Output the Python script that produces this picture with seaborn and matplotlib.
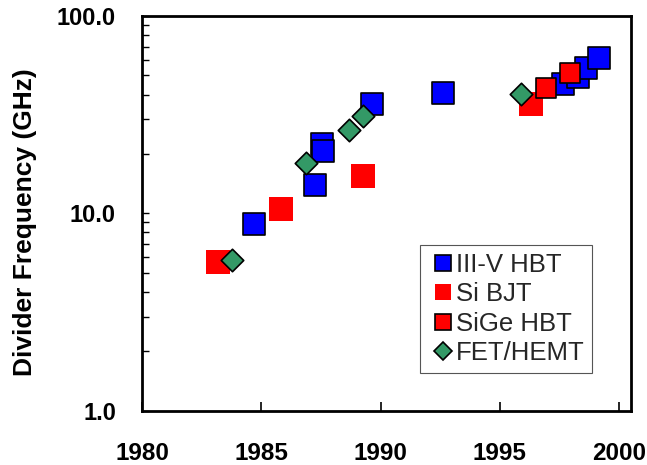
import matplotlib
matplotlib.use('Agg')
import matplotlib.pyplot as plt
import seaborn as sns
import numpy as np
from matplotlib.lines import Line2D
from matplotlib.ticker import LogLocator, NullFormatter

# ---- data ----
iiiv_year = [1984.70, 1987.23, 1987.53, 1987.60, 1989.65, 1992.62, 1997.65, 1998.27, 1998.64, 1999.16]
iiiv_freq = [8.85, 13.9, 22.5, 20.7, 35.9, 40.6, 45.0, 49.3, 54.7, 61.3]
sibjt_year = [1983.18, 1985.81, 1989.28, 1996.31]
sibjt_freq = [5.64, 10.56, 15.4, 35.7]
sige_year = [1996.94, 1997.96]
sige_freq = [43.2, 51.4]
fet_year = [1983.78, 1986.88, 1988.68, 1989.26, 1995.91]
fet_freq = [5.82, 18.0, 26.4, 31.0, 40.2]

series_labels = ['III-V HBT', 'Si BJT', 'SiGe HBT', 'FET/HEMT']
x_ticks = [1980, 1985, 1990, 1995, 2000]
x_tick_labels = ['1980', '1985', '1990', '1995', '2000']
y_ticks = [1.0, 10.0, 100.0]
y_tick_labels = ['1.0', '10.0', '100.0']
y_label = 'Divider Frequency (GHz)'

BLUE = '#0000ff'
RED = '#ff0000'
GREEN = '#339966'

sns.set_style('white')
plt.rcParams['font.family'] = ['Liberation Sans', 'DejaVu Sans']

fig = plt.figure(figsize=(6.47, 4.65), dpi=100)
ax = fig.add_axes([142.3 / 647, 1 - 410.7 / 465, (630.7 - 142.3) / 647, (410.7 - 16) / 465])
ax.set_yscale('log')

sns.scatterplot(x=iiiv_year, y=iiiv_freq, marker='s', s=233, color=BLUE,
                edgecolor='black', linewidth=1.2, ax=ax, legend=False, zorder=3)
sns.scatterplot(x=sibjt_year, y=sibjt_freq, marker='s', s=290, color=RED,
                edgecolor=RED, linewidth=0.0, ax=ax, legend=False, zorder=4)
sns.scatterplot(x=sige_year, y=sige_freq, marker='s', s=225, color=RED,
                edgecolor='black', linewidth=1.2, ax=ax, legend=False, zorder=5)
sns.scatterplot(x=fet_year, y=fet_freq, marker='D', s=131, color=GREEN,
                edgecolor='black', linewidth=1.2, ax=ax, legend=False, zorder=6)

ax.set_xlim(1980, 2000.5)
ax.set_ylim(1, 100)

ax.set_xticks(x_ticks, labels=x_tick_labels, fontsize=17.5, fontweight='bold')
ax.set_yticks(y_ticks, labels=y_tick_labels, fontsize=17, fontweight='bold')
ax.yaxis.set_minor_locator(LogLocator(base=10, subs=np.arange(2, 10)))
ax.yaxis.set_minor_formatter(NullFormatter())
ax.xaxis.set_minor_locator(plt.NullLocator())

ax.tick_params(axis='x', which='major', direction='in', length=6.5, width=1.2,
               top=False, bottom=True, pad=22.5, colors='black')
ax.tick_params(axis='y', which='both', direction='in', length=5, width=1.0,
               left=True, right=False, pad=19, colors='black')

for sp in ax.spines.values():
    sp.set_visible(True)
    sp.set_color('black')
    sp.set_linewidth(2.0)

ax.set_ylabel(y_label, fontsize=19, fontweight='bold', color='black')
ax.yaxis.set_label_coords(-0.2156, 0.479)
ax.set_xlabel('')

handles = [
    Line2D([], [], marker='s', linestyle='none', markersize=11.5,
           markerfacecolor=BLUE, markeredgecolor='black', markeredgewidth=1.2),
    Line2D([], [], marker='s', linestyle='none', markersize=12,
           markerfacecolor=RED, markeredgecolor=RED, markeredgewidth=0),
    Line2D([], [], marker='s', linestyle='none', markersize=11.5,
           markerfacecolor=RED, markeredgecolor='black', markeredgewidth=1.2),
    Line2D([], [], marker='D', linestyle='none', markersize=8.7,
           markerfacecolor=GREEN, markeredgecolor='black', markeredgewidth=1.2),
]
leg = ax.legend(handles, series_labels, loc='upper left', bbox_to_anchor=(0.5686, 0.4198),
                frameon=True, fancybox=False, framealpha=1, edgecolor='#555555',
                prop={'size': 18.5}, borderpad=0.3, handlelength=1.2,
                handletextpad=-0.1, labelspacing=0.21, borderaxespad=0)
leg.get_frame().set_linewidth(0.8)
leg.set_zorder(10)

fig.savefig('out.png', dpi=100, facecolor='white')
